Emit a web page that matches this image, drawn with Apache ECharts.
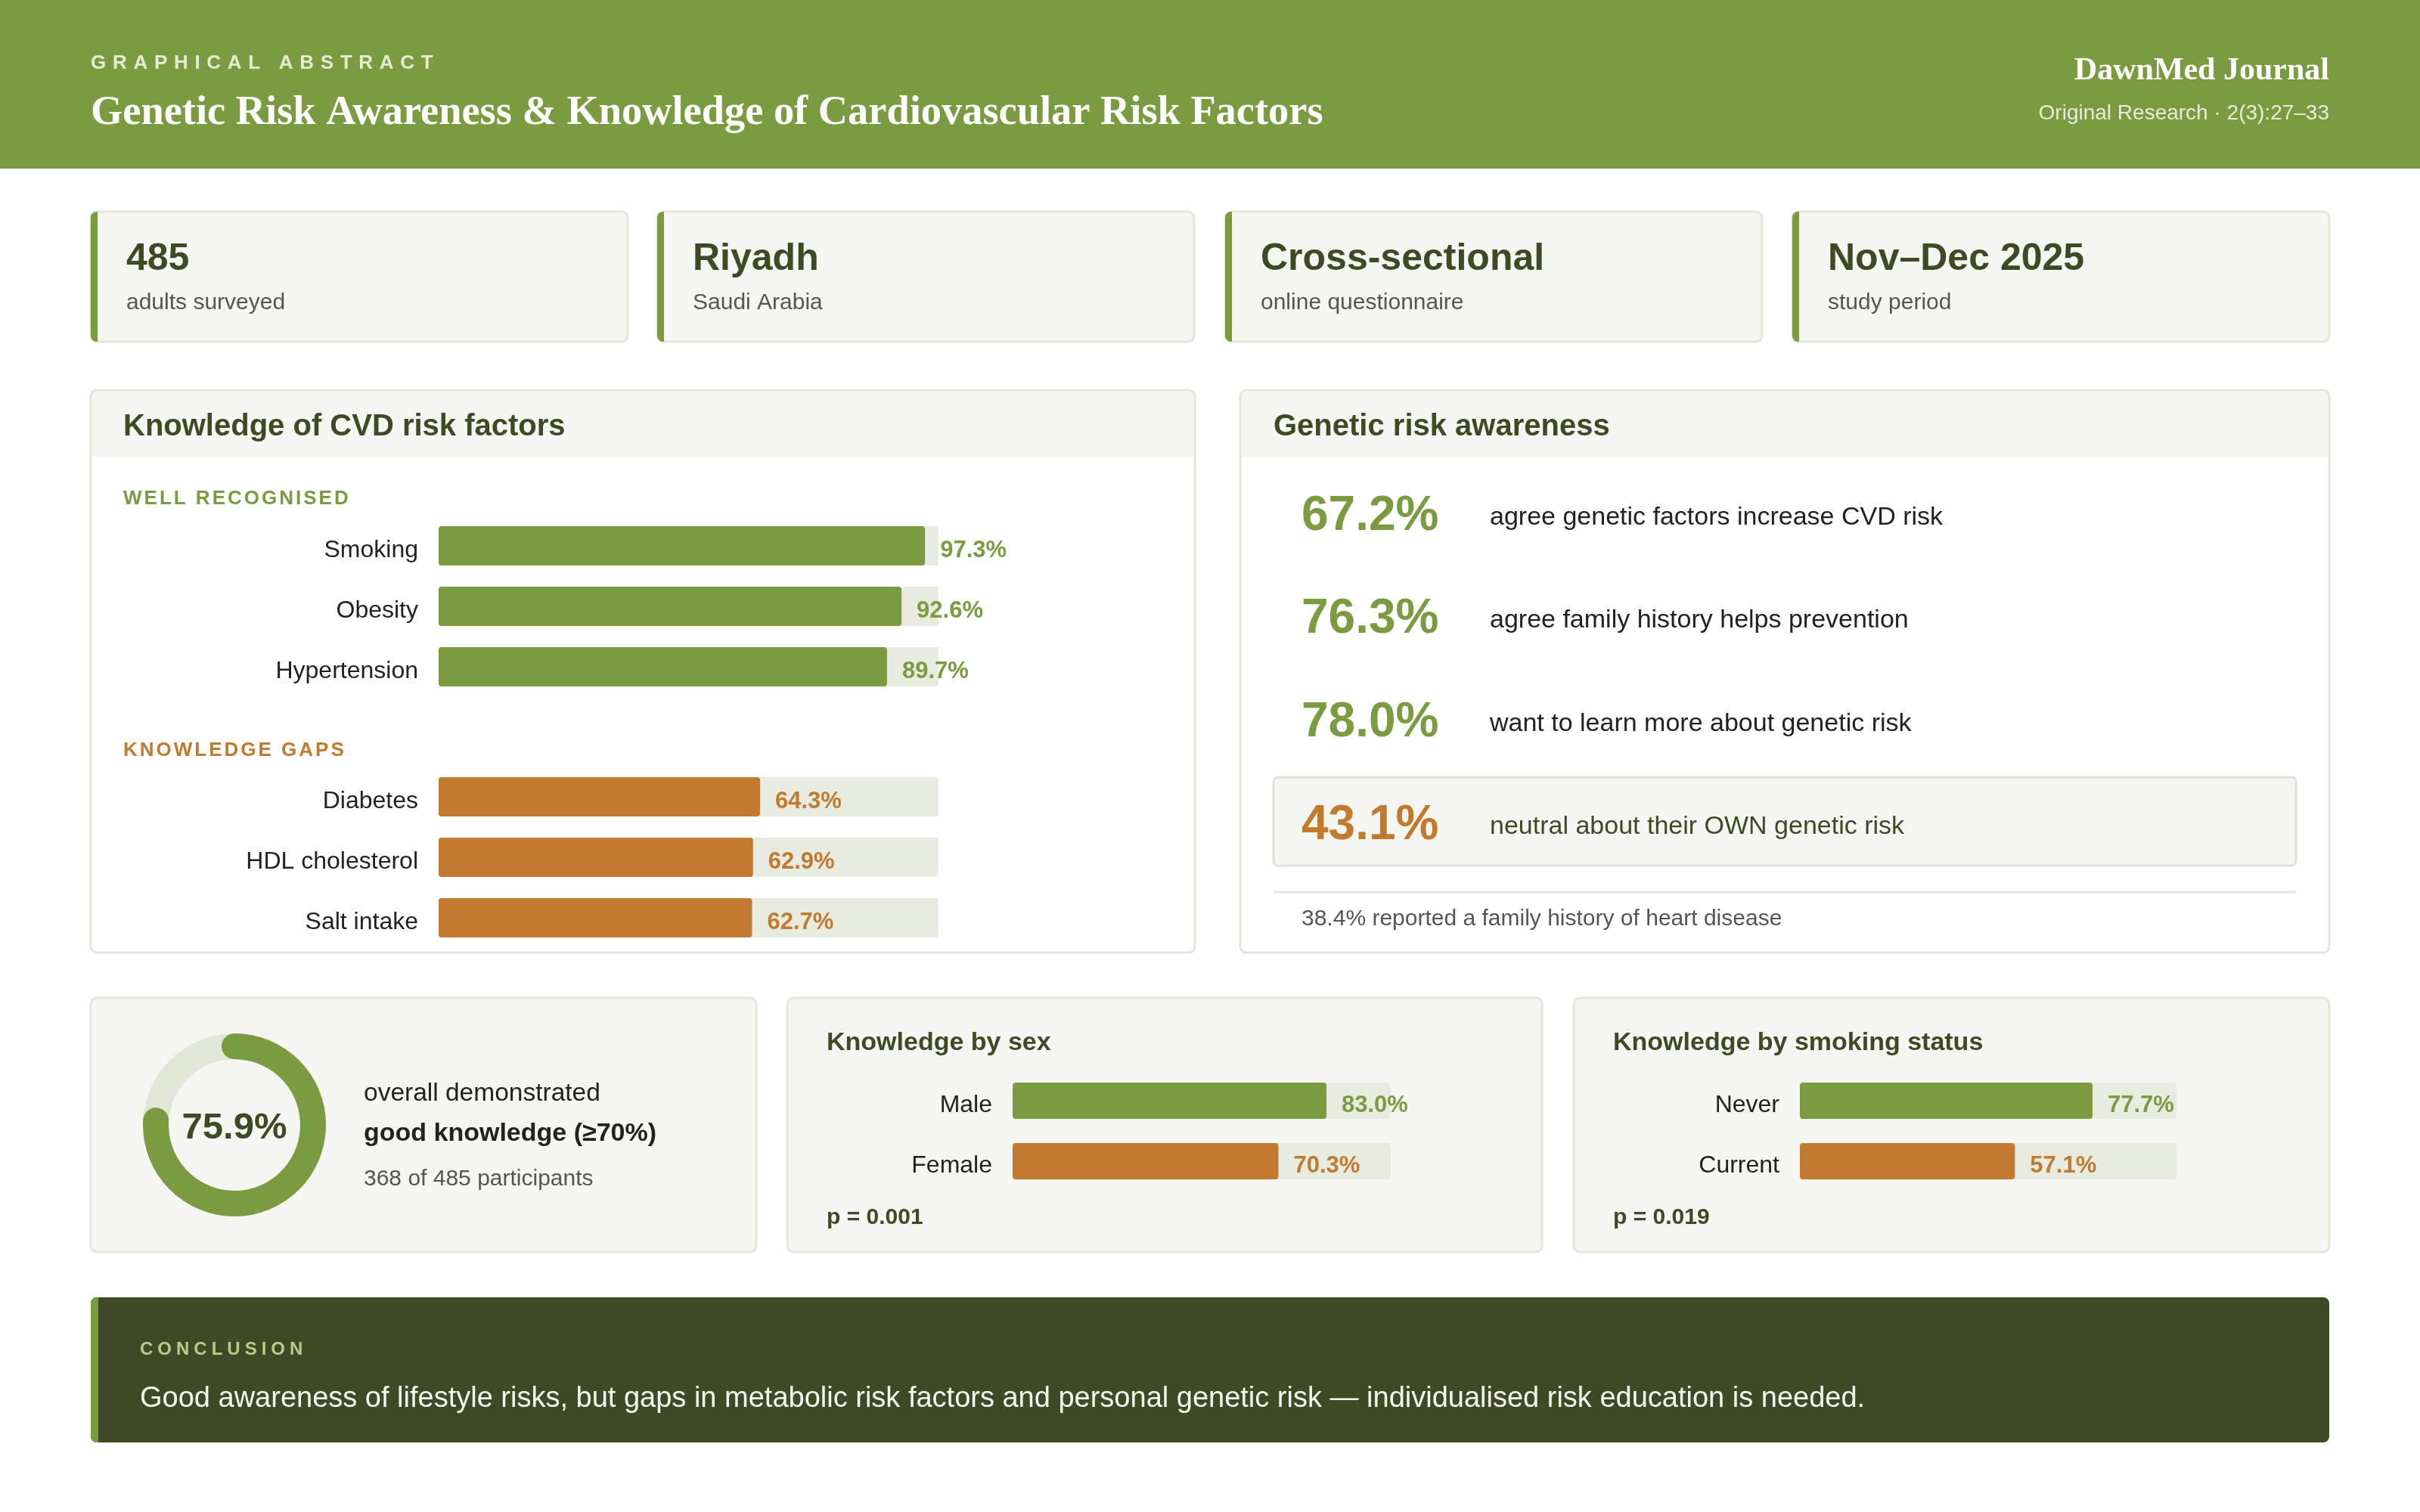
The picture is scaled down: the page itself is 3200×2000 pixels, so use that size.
<!DOCTYPE html>
<html><head><meta charset="utf-8">
<script src="https://cdn.jsdelivr.net/npm/echarts@6/dist/echarts.min.js"></script>
<style>html,body{margin:0;padding:0;background:#fff}#c{width:3200px;height:2000px}</style>
</head><body><div id="c"></div>
<script>
// ---------- data ----------
const headerKicker = 'GRAPHICAL ABSTRACT';
const headerTitle = 'Genetic Risk Awareness & Knowledge of Cardiovascular Risk Factors';
const journalName = 'DawnMed Journal';
const journalRef = 'Original Research · 2(3):27–33';

const statValues = ['485', 'Riyadh', 'Cross-sectional', 'Nov–Dec 2025'];
const statLabels = ['adults surveyed', 'Saudi Arabia', 'online questionnaire', 'study period'];

const wellCats = ['Smoking', 'Obesity', 'Hypertension'];
const wellVals = [97.3, 92.6, 89.7];
const gapCats = ['Diabetes', 'HDL cholesterol', 'Salt intake'];
const gapVals = [64.3, 62.9, 62.7];

const geneticVals = [67.2, 76.3, 78.0, 43.1];
const geneticTexts = ['agree genetic factors increase CVD risk', 'agree family history helps prevention',
  'want to learn more about genetic risk', 'neutral about their OWN genetic risk'];
const familyNote = '38.4% reported a family history of heart disease';

const goodKnowledge = 75.9;
const goodLines = ['overall demonstrated', 'good knowledge (≥70%)', '368 of 485 participants'];

const sexCats = ['Male', 'Female'];
const sexVals = [83.0, 70.3];
const sexP = 'p = 0.001';
const smokeCats = ['Never', 'Current'];
const smokeVals = [77.7, 57.1];
const smokeP = 'p = 0.019';

const conclusionLabel = 'CONCLUSION';
const conclusionText = 'Good awareness of lifestyle risks, but gaps in metabolic risk factors and personal genetic risk — individualised risk education is needed.';

// ---------- styles ----------
const GREEN = '#7b9b41', DARK = '#3d4a24', ORANGE = '#c17a2e', TRACK = '#e8ebe0';
const CARD = '#f5f6f1', BORDER = '#e3e6da';
const SANS = '"Liberation Sans", Arial, sans-serif';
const SERIF = '"Liberation Serif", "Times New Roman", serif';

// letter spacing for the small-caps labels only
const SPACED = {'GRAPHICAL ABSTRACT': '8.7px', 'WELL RECOGNISED': '3px', 'KNOWLEDGE GAPS': '3px', 'CONCLUSION': '6px'};
(function () {
  const P = CanvasRenderingContext2D.prototype, orig = P.fillText;
  P.fillText = function (t, x, y, m) {
    const ls = SPACED[t];
    if (ls && 'letterSpacing' in this) {
      this.save();
      const f = this.font;
      this.letterSpacing = ls;
      this.font = f;
      orig.call(this, t, x, y);
      this.restore();
      return;
    }
    return m === undefined ? orig.call(this, t, x, y) : orig.call(this, t, x, y, m);
  };
})();

function rect(x, y, w, h, fill, stroke, r, lw) {
  return {type: 'rect', shape: {x, y, width: w, height: h, r: r || 0},
    style: {fill, stroke: stroke || null, lineWidth: lw || 0}, silent: true};
}
function text(t, x, y, font, fill, align) {
  return {type: 'text', x, y, silent: true,
    style: {text: t, font, fill, textAlign: align || 'left', textVerticalAlign: 'middle'}};
}

const g = [];
// header
g.push(rect(0, 0, 3200, 223, GREEN));
g.push(text(headerKicker, 120, 84, 'bold 26px ' + SANS, '#e3ebd3'));
g.push(text(headerTitle, 120, 150, 'bold 54.4px ' + SERIF, '#ffffff'));
g.push(text(journalName, 3080, 94, 'bold 42px ' + SERIF, '#ffffff', 'right'));
g.push(text(journalRef, 3080, 150, '28px ' + SANS, '#e6edd8', 'right'));

// stat cards
const statX = [120, 869, 1620, 2370];
statX.forEach((x, i) => {
  g.push(rect(x, 280, 710, 172, CARD, BORDER, 8, 3));
  g.push(rect(x, 280, 9, 172, GREEN, null, [8, 0, 0, 8]));
  g.push(text(statValues[i], x + 47, 343, 'bold 50px ' + SANS, DARK));
  g.push(text(statLabels[i], x + 47, 401, '30px ' + SANS, '#555555'));
});

// CVD panel
g.push(rect(120, 516, 1460, 744, '#ffffff', BORDER, 8, 3));
g.push(rect(121.5, 517.5, 1457, 87, CARD, null, [7, 7, 0, 0]));
g.push(text('Knowledge of CVD risk factors', 163, 565, 'bold 40px ' + SANS, DARK));
g.push(text('WELL RECOGNISED', 163, 660, 'bold 26px ' + SANS, GREEN));
g.push(text('KNOWLEDGE GAPS', 163, 993, 'bold 26px ' + SANS, ORANGE));

// genetic panel
g.push(rect(1640, 516, 1440, 744, '#ffffff', BORDER, 8, 3));
g.push(rect(1641.5, 517.5, 1437, 87, CARD, null, [7, 7, 0, 0]));
g.push(text('Genetic risk awareness', 1684, 565, 'bold 40px ' + SANS, DARK));
g.push(rect(1684, 1028, 1352, 117, CARD, '#dfe2d6', 6, 3));
const genY = [683, 819, 956, 1092];
geneticVals.forEach((v, i) => {
  const last = i === geneticVals.length - 1;
  g.push(text(v.toFixed(1) + '%', 1721, genY[i], 'bold 64px ' + SANS, last ? ORANGE : GREEN));
  g.push(text(geneticTexts[i], 1970, genY[i] + 2, '34px ' + SANS, last ? DARK : '#222222'));
});
g.push({type: 'line', shape: {x1: 1684, y1: 1180, x2: 3036, y2: 1180}, style: {stroke: BORDER, lineWidth: 3}, silent: true});
g.push(text(familyNote, 1721, 1216, '30px ' + SANS, '#555555'));

// bottom cards
g.push(rect(120, 1320, 880, 336, CARD, BORDER, 8, 3));
g.push(rect(1041, 1320, 998, 336, CARD, BORDER, 8, 3));
g.push(rect(2081, 1320, 999, 336, CARD, BORDER, 8, 3));
g.push(text(goodLines[0], 481, 1447, '33.5px ' + SANS, '#222222'));
g.push(text(goodLines[1], 481, 1500, 'bold 34px ' + SANS, '#222222'));
g.push(text(goodLines[2], 481, 1560, '30px ' + SANS, '#555555'));
g.push(text('Knowledge by sex', 1093, 1380, 'bold 34px ' + SANS, DARK));
g.push(text(sexP, 1093, 1611, 'bold 30px ' + SANS, DARK));
g.push(text('Knowledge by smoking status', 2133, 1380, 'bold 34px ' + SANS, DARK));
g.push(text(smokeP, 2133, 1611, 'bold 30px ' + SANS, DARK));

// conclusion
g.push(rect(120, 1716, 2960, 192, '#3e4a25', null, 8));
g.push(rect(120, 1716, 10, 192, GREEN, null, [8, 0, 0, 8]));
g.push(text(conclusionLabel, 185, 1785, 'bold 24px ' + SANS, '#b8cc8a'));
g.push(text(conclusionText, 185, 1851, '38px ' + SANS, '#f4f6ee'));

// ---------- charts ----------
const grids = [
  {left: 580, top: 682, width: 661, height: 240},
  {left: 580, top: 1014, width: 661, height: 240},
  {left: 1339, top: 1416, width: 500, height: 160},
  {left: 2380, top: 1416, width: 498, height: 160}
];
const catSets = [wellCats, gapCats, sexCats, smokeCats];
const xAxes = grids.map((_, i) => ({type: 'value', gridIndex: i, min: 0, max: 100, show: false}));
const yAxes = catSets.map((cats, i) => ({
  type: 'category', gridIndex: i, data: cats, inverse: true,
  axisLine: {show: false}, axisTick: {show: false}, splitLine: {show: false},
  axisLabel: {margin: 27, fontSize: 32, color: '#222222', fontFamily: SANS,
    verticalAlign: 'top', lineHeight: 12}
}));
const fmt = p => Number(p.value).toFixed(1) + '%';
function barSeries(i, vals, colors, bw) {
  return {
    type: 'bar', xAxisIndex: i, yAxisIndex: i, barWidth: bw, silent: true,
    showBackground: true, backgroundStyle: {color: TRACK, borderRadius: 4},
    data: vals.map((v, k) => ({value: v, itemStyle: {color: colors[k], borderRadius: 4},
      label: {color: colors[k]}})),
    label: {show: true, position: 'right', distance: 20, formatter: fmt, offset: [0, 6],
      fontSize: 31, fontWeight: 'bold', fontFamily: SANS}
  };
}
const series = [
  barSeries(0, wellVals, wellVals.map(() => GREEN), 52),
  barSeries(1, gapVals, gapVals.map(() => ORANGE), 52),
  barSeries(2, sexVals, [GREEN, ORANGE], 48),
  barSeries(3, smokeVals, [GREEN, ORANGE], 48),
  {
    type: 'gauge', center: [310, 1488], radius: 121, startAngle: 90, endAngle: -270,
    min: 0, max: 100, silent: true,
    axisLine: {lineStyle: {width: 34, color: [[1, '#e1e6d6']]}},
    progress: {show: true, width: 34, roundCap: true, itemStyle: {color: GREEN}},
    pointer: {show: false}, anchor: {show: false}, axisTick: {show: false},
    splitLine: {show: false}, axisLabel: {show: false}, title: {show: false},
    detail: {offsetCenter: [0, 4], formatter: v => v.toFixed(1) + '%', fontSize: 49,
      fontWeight: 'bold', color: DARK, fontFamily: SANS},
    data: [{value: goodKnowledge}]
  }
];

const chart = echarts.init(document.getElementById('c'), null, {renderer: 'canvas'});
chart.setOption({
  backgroundColor: '#ffffff', animation: false,
  textStyle: {fontFamily: SANS},
  grid: grids, xAxis: xAxes, yAxis: yAxes, series,
  graphic: {elements: g}
});
</script></body></html>
